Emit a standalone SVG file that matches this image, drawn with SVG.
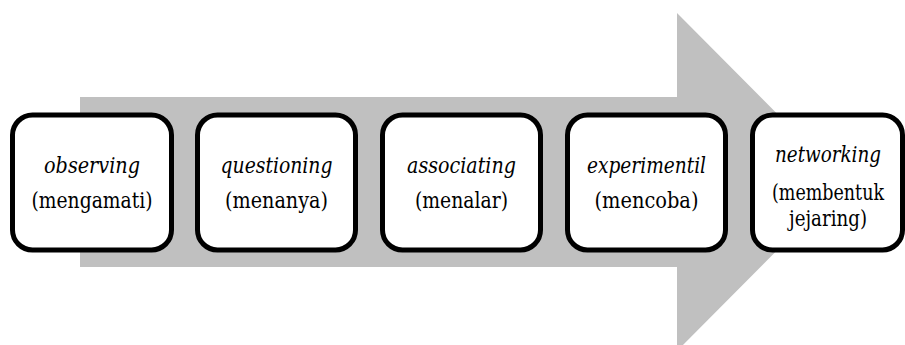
<svg xmlns="http://www.w3.org/2000/svg" width="905" height="345" viewBox="0 0 905 345">
<style>
  .box { fill: #ffffff; stroke: #000000; stroke-width: 5; }
  .t { font-family: "DejaVu Serif", serif; font-size: 22px; fill: #000000; text-anchor: middle; }
  .i { font-style: italic; }
</style>
<rect width="905" height="345" fill="#ffffff"/>
<g id="connectors">
  <polygon id="arrow" points="80,97 677,97 677,13 845,182 677,351 677,267 80,267" fill="#c0c0c0"/>
</g>
<g id="observing">
  <rect class="box" x="12.5" y="115" width="159" height="135" rx="20" ry="20"/>
  <text class="t i" x="92" y="173" textLength="96" lengthAdjust="spacingAndGlyphs">observing</text>
  <text class="t" x="92" y="208" textLength="121" lengthAdjust="spacingAndGlyphs">(mengamati)</text>
</g>
<g id="questioning">
  <rect class="box" x="197.5" y="115" width="158" height="135" rx="20" ry="20"/>
  <text class="t i" x="276.5" y="173" textLength="112" lengthAdjust="spacingAndGlyphs">questioning</text>
  <text class="t" x="276.5" y="208" textLength="103" lengthAdjust="spacingAndGlyphs">(menanya)</text>
</g>
<g id="associating">
  <rect class="box" x="382.5" y="115" width="158" height="135" rx="20" ry="20"/>
  <text class="t i" x="461.5" y="173" textLength="109" lengthAdjust="spacingAndGlyphs">associating</text>
  <text class="t" x="461.5" y="208" textLength="93" lengthAdjust="spacingAndGlyphs">(menalar)</text>
</g>
<g id="experimentil">
  <rect class="box" x="567.5" y="115" width="158" height="135" rx="20" ry="20"/>
  <text class="t i" x="646.5" y="173" textLength="119" lengthAdjust="spacingAndGlyphs">experimentil</text>
  <text class="t" x="646.5" y="208" textLength="104" lengthAdjust="spacingAndGlyphs">(mencoba)</text>
</g>
<g id="networking">
  <rect class="box" x="752.5" y="115" width="150" height="135" rx="20" ry="20"/>
  <text class="t i" x="828" y="162" textLength="106" lengthAdjust="spacingAndGlyphs">networking</text>
  <text class="t" x="828" y="200" font-size="21" textLength="112" lengthAdjust="spacingAndGlyphs">(membentuk</text>
  <text class="t" x="828" y="226" textLength="78" lengthAdjust="spacingAndGlyphs">jejaring)</text>
</g>
</svg>
